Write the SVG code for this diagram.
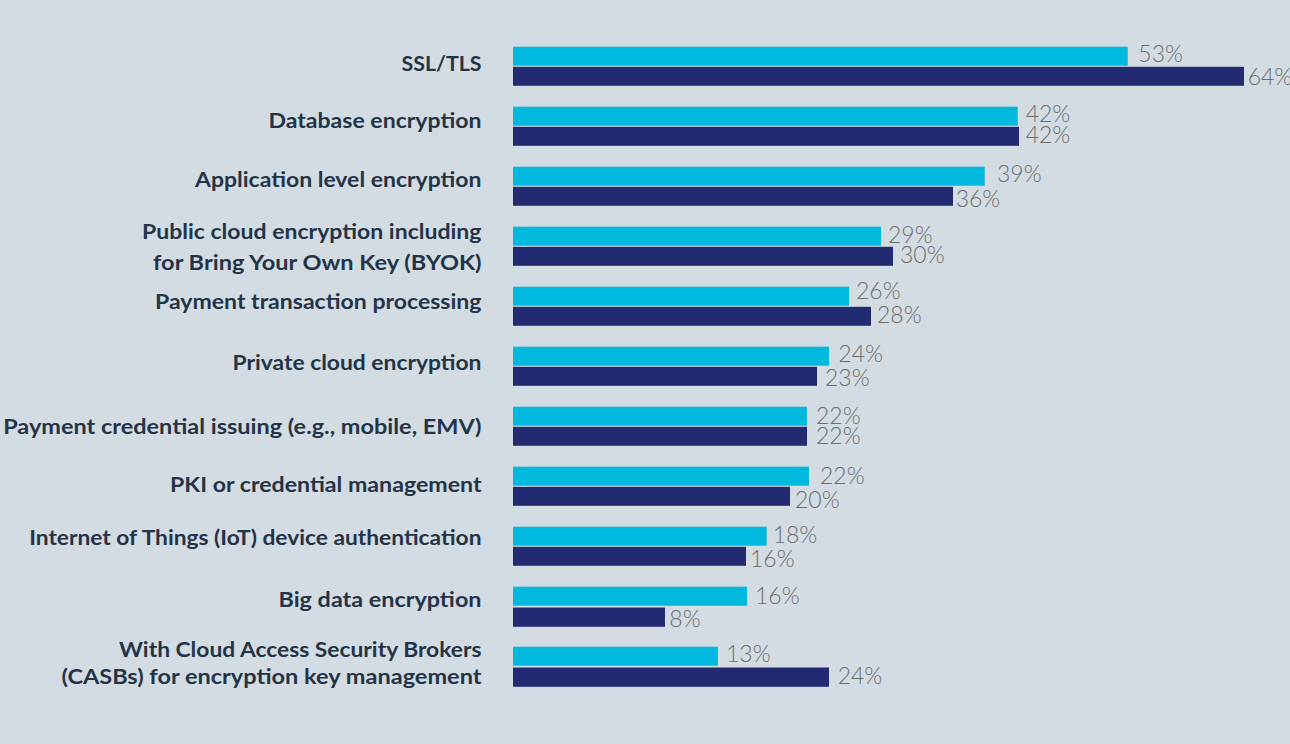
<svg xmlns="http://www.w3.org/2000/svg" width="1290" height="744" viewBox="0 0 1290 744">
<style>
.bg{fill:#d3dce3}
.lt{fill:#00b9df}
.dk{fill:#222a72}
.lab{font-family:Lato,"Liberation Sans",sans-serif;font-weight:700;font-size:21px;fill:#243446;text-anchor:end}
.pct{font-family:Lato,"Liberation Sans",sans-serif;font-weight:300;font-size:23px;fill:#6d6d6d}
</style>
<rect class="bg" x="0" y="0" width="1290" height="744"/>
<g id="ssl">
<text class="lab" x="481.5" y="71" textLength="80" lengthAdjust="spacingAndGlyphs">SSL/TLS</text>
<rect class="lt" x="513" y="46.7" width="614.7" height="19"/>
<rect class="dk" x="513" y="66.8" width="731" height="19"/>
<text class="pct" x="1138.3" y="62">53%</text>
<text class="pct" x="1247.7" y="85.3">64%</text>
</g>
<g id="database">
<text class="lab" x="481.5" y="128.3" textLength="213" lengthAdjust="spacingAndGlyphs">Database encryption</text>
<rect class="lt" x="513" y="106.7" width="504.7" height="19"/>
<rect class="dk" x="513" y="126.8" width="506" height="19"/>
<text class="pct" x="1025.7" y="122.3">42%</text>
<text class="pct" x="1025.7" y="143.3">42%</text>
</g>
<g id="application">
<text class="lab" x="481.5" y="186.7" textLength="286.5" lengthAdjust="spacingAndGlyphs">Application level encryption</text>
<rect class="lt" x="513" y="166.7" width="471.7" height="19"/>
<rect class="dk" x="513" y="186.8" width="440" height="19"/>
<text class="pct" x="997" y="181.7">39%</text>
<text class="pct" x="955.7" y="206.7">36%</text>
</g>
<g id="public-cloud">
<text class="lab" x="481.5" y="239.3" textLength="339.5" lengthAdjust="spacingAndGlyphs">Public cloud encryption including</text>
<text class="lab" x="481.5" y="269.8" textLength="328.5" lengthAdjust="spacingAndGlyphs">for Bring Your Own Key (BYOK)</text>
<rect class="lt" x="513" y="226.7" width="368" height="19"/>
<rect class="dk" x="513" y="246.8" width="380" height="19"/>
<text class="pct" x="888" y="242.7">29%</text>
<text class="pct" x="900" y="263.3">30%</text>
</g>
<g id="payment-transaction">
<text class="lab" x="481.5" y="309" textLength="326.5" lengthAdjust="spacingAndGlyphs">Payment transaction processing</text>
<rect class="lt" x="513" y="286.7" width="336" height="19"/>
<rect class="dk" x="513" y="306.8" width="358" height="19"/>
<text class="pct" x="856" y="299.3">26%</text>
<text class="pct" x="877" y="323">28%</text>
</g>
<g id="private-cloud">
<text class="lab" x="481.5" y="370" textLength="249" lengthAdjust="spacingAndGlyphs">Private cloud encryption</text>
<rect class="lt" x="513" y="346.7" width="316" height="19"/>
<rect class="dk" x="513" y="366.8" width="304" height="19"/>
<text class="pct" x="838.3" y="361.7">24%</text>
<text class="pct" x="825" y="385.7">23%</text>
</g>
<g id="payment-credential">
<text class="lab" x="481.5" y="434" textLength="478.3" lengthAdjust="spacingAndGlyphs">Payment credential issuing (e.g., mobile, EMV)</text>
<rect class="lt" x="513" y="406.7" width="294" height="19"/>
<rect class="dk" x="513" y="426.8" width="294" height="19"/>
<text class="pct" x="816" y="424">22%</text>
<text class="pct" x="816" y="444">22%</text>
</g>
<g id="pki">
<text class="lab" x="481.5" y="491.7" textLength="311.5" lengthAdjust="spacingAndGlyphs">PKI or credential management</text>
<rect class="lt" x="513" y="466.7" width="296" height="19"/>
<rect class="dk" x="513" y="486.8" width="277" height="19"/>
<text class="pct" x="820" y="484">22%</text>
<text class="pct" x="795" y="508.3">20%</text>
</g>
<g id="iot">
<text class="lab" x="481.5" y="545" textLength="452.3" lengthAdjust="spacingAndGlyphs">Internet of Things (IoT) device authentication</text>
<rect class="lt" x="513" y="526.7" width="253.7" height="19"/>
<rect class="dk" x="513" y="546.8" width="233" height="19"/>
<text class="pct" x="772.7" y="543.3">18%</text>
<text class="pct" x="750" y="567.3">16%</text>
</g>
<g id="big-data">
<text class="lab" x="481.5" y="607.3" textLength="203" lengthAdjust="spacingAndGlyphs">Big data encryption</text>
<rect class="lt" x="513" y="586.7" width="234" height="19"/>
<rect class="dk" x="513" y="607.5" width="152" height="19.3"/>
<text class="pct" x="755" y="604">16%</text>
<text class="pct" x="669.3" y="627.3">8%</text>
</g>
<g id="casb">
<text class="lab" x="481.5" y="656.5" textLength="362.5" lengthAdjust="spacingAndGlyphs">With Cloud Access Security Brokers</text>
<text class="lab" x="481.5" y="683.5" textLength="420" lengthAdjust="spacingAndGlyphs">(CASBs) for encryption key management</text>
<rect class="lt" x="513" y="646.7" width="205" height="19"/>
<rect class="dk" x="513" y="667.5" width="316" height="19.3"/>
<text class="pct" x="726" y="662.3">13%</text>
<text class="pct" x="837.7" y="684.3">24%</text>
</g>
<g id="connectors"/>
</svg>
